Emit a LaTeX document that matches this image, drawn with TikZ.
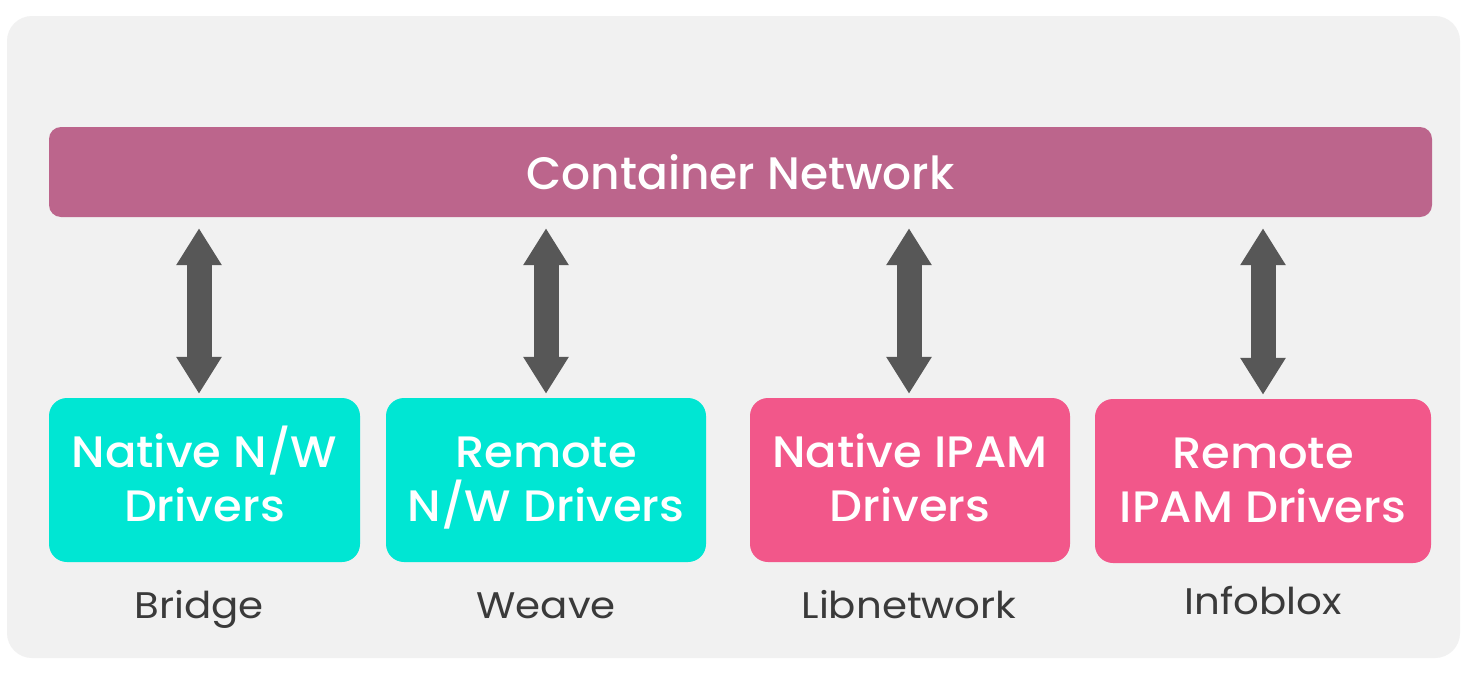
\documentclass[tikz,border=0pt]{standalone}
\usepackage{fontspec}
\setmainfont{Poppins Medium}
\newfontfamily\boxfont{Poppins Medium}[FakeStretch=1.055]
\newfontfamily\labelfont{Poppins}[FakeStretch=1.09]
\usetikzlibrary{arrows.meta,calc}
\definecolor{bggray}{HTML}{F1F1F1}
\definecolor{barcol}{HTML}{BC658C}
\definecolor{cyanbox}{HTML}{00E6D3}
\definecolor{pinkbox}{HTML}{F2578A}
\definecolor{arrowgray}{HTML}{575757}
\definecolor{labelgray}{HTML}{3A3A3A}
\newcommand{\fixln}{\vphantom{Nd/g}}
\tikzset{
  drvbox/.style={rounded corners=18pt, minimum height=164pt, text=white, align=center,
    font=\boxfont\fontsize{44}{54}\selectfont, inner sep=0pt},
  sublabel/.style={text=labelgray, font=\labelfont\fontsize{37}{40}\selectfont, inner sep=0pt},
  dblarrow/.style={draw=arrowgray, line width=25pt,
    {Triangle[width=43pt,length=37pt]}-{Triangle[width=43pt,length=37pt]}},
}
\begin{document}
\begin{tikzpicture}[x=1pt,y=-1pt]
\useasboundingbox (0,0) rectangle (1463,672);
\fill[white] (0,0) rectangle (1463,672);
\fill[bggray, rounded corners=25pt] (7,16) rectangle (1460,658);
\node[fill=barcol, rounded corners=12pt, minimum width=1383pt, minimum height=90pt,
  text=white, font=\fontsize{45.5}{50}\selectfont, inner sep=0pt] (bar) at (740.5,172) {Container Network};
\node[drvbox, fill=cyanbox, minimum width=311pt] (b1) at (204.5,480) {\fixln Native N/W\\\fixln Drivers};
\node[drvbox, fill=cyanbox, minimum width=320pt] (b2) at (546,480) {\fixln Remote\\\fixln N/W Drivers};
\node[drvbox, fill=pinkbox, minimum width=320pt] (b3) at (910,480) {\fixln Native IPAM\\\fixln Drivers};
\node[drvbox, fill=pinkbox, minimum width=336pt] (b4) at (1263,481) {\fixln Remote\\\fixln IPAM Drivers};
\node[sublabel] (l1) at (199,606) {\fixln Bridge};
\node[sublabel] (l2) at (546,606) {\fixln Weave};
\node[sublabel] (l3) at (909,606) {\fixln Libnetwork};
\node[sublabel] (l4) at (1263,602) {\fixln Infoblox};
\coordinate (t1) at ($(bar.south -| l1)+(0,-11pt)$);
\coordinate (t2) at ($(bar.south -| l2)+(0,-11pt)$);
\coordinate (t3) at ($(bar.south -| l3)+(0,-11pt)$);
\coordinate (t4) at ($(bar.south -| l4)+(0,-11pt)$);
\coordinate (e1) at ($(b1.north -| l1)+(0,4pt)$);
\path[dblarrow] (t1) -- (e1);
\path[dblarrow] (t2) -- ($(b2.north)+(0,4pt)$);
\path[dblarrow] (t3) -- ($(b3.north -| l3)+(0,4pt)$);
\path[dblarrow] (t4) -- ($(b4.north)+(0,4pt)$);
\end{tikzpicture}
\end{document}
